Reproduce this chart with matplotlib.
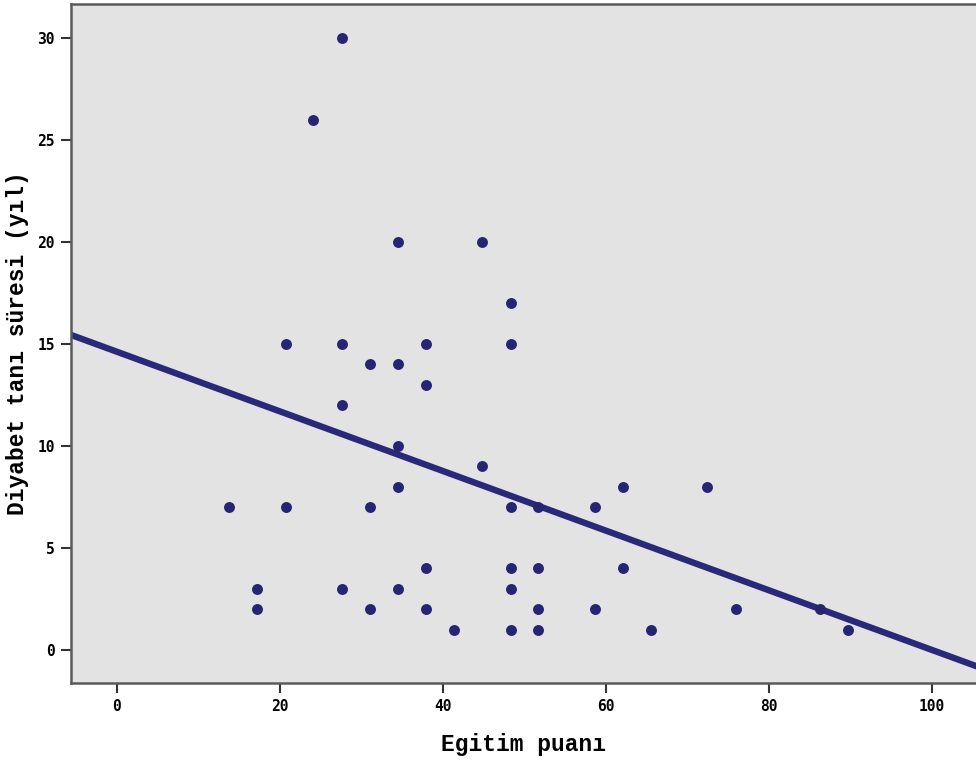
import matplotlib
matplotlib.use("Agg")
import matplotlib.pyplot as plt
import numpy as np

# Egitim puani (x) ve diyabet tani suresi (y)
egitim = [13.8, 17.2, 17.2, 20.7, 20.7, 24.1, 27.6, 27.6, 27.6, 27.6,
          31.0, 31.0, 31.0, 34.5, 34.5, 34.5, 34.5, 34.5, 37.9, 37.9,
          37.9, 37.9, 41.4, 44.8, 44.8, 48.3, 48.3, 48.3, 48.3, 48.3,
          48.3, 51.7, 51.7, 51.7, 51.7, 58.6, 58.6, 62.1, 62.1, 65.5,
          72.4, 75.9, 86.2, 89.7]
sure = [7, 3, 2, 15, 7, 26, 30, 15, 12, 3,
        14, 7, 2, 20, 14, 10, 8, 3, 15, 13,
        4, 2, 1, 20, 9, 17, 15, 7, 4, 3,
        1, 7, 4, 2, 1, 7, 2, 8, 4, 1,
        8, 2, 2, 1]

# regresyon dogrusu
kesim = 14.62
egim = -0.1462

xticks = [0, 20, 40, 60, 80, 100]
yticks = [0, 5, 10, 15, 20, 25, 30]

nokta = "#252574"
cizgi = "#29297a"
kenar = "#5a5a5a"

fig = plt.figure(figsize=(9.76, 7.64), dpi=100)
ax = fig.add_axes([71 / 976, 81 / 764, 905 / 976, 679 / 764])
ax.set_facecolor("#e3e3e3")

ax.scatter(egitim, sure, s=62, color=nokta, zorder=3, linewidths=0)
xs = np.array([-10, 110])
ax.plot(xs, kesim + egim * xs, color=cizgi, lw=4.6, zorder=2,
        solid_capstyle="butt")

ax.set_xlim(-5.64, 105.4)
ax.set_ylim(-1.62, 31.67)
ax.set_xticks(xticks)
ax.set_yticks(yticks)

for s in ["left", "bottom", "top"]:
    ax.spines[s].set_color(kenar)
    ax.spines[s].set_linewidth(1.8)
ax.spines["right"].set_visible(False)

ax.tick_params(direction="out", length=7.5, width=1.5, color="#333333",
               pad=4, labelsize=10.5)
for lab in ax.get_xticklabels() + ax.get_yticklabels():
    lab.set_family("DejaVu Sans Mono")
    lab.set_weight("bold")

ax.set_xlabel("Egitim puanı", family="Liberation Mono", weight="bold",
              fontsize=16.5, labelpad=14)
ax.set_ylabel("Diyabet tanı süresi (yıl)", family="Liberation Mono",
              weight="bold", fontsize=16.5, labelpad=6)

fig.savefig("out.png", dpi=100)
plt.close(fig)
